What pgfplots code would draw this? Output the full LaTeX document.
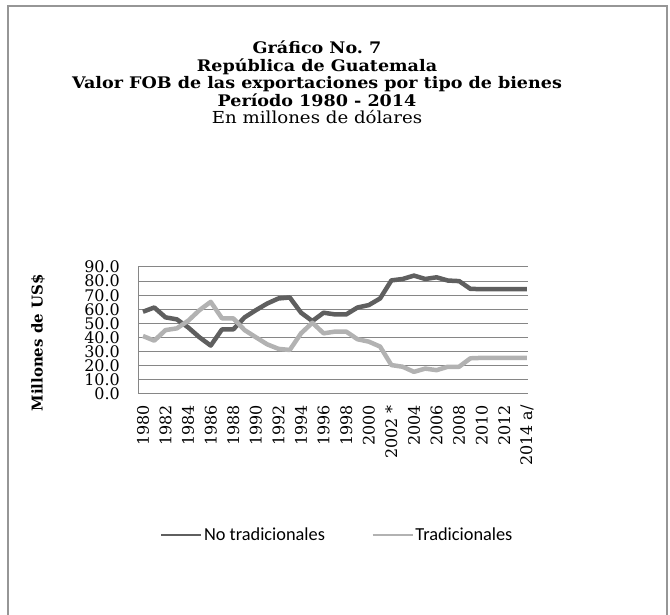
\documentclass[border=0pt]{standalone}
\usepackage{pgfplots}
\pgfplotsset{compat=1.18}
\usepackage{fontspec}
\setmainfont{DejaVu Serif}
\newfontfamily\legfont{Carlito}
\definecolor{darkl}{RGB}{95,95,95}
\definecolor{lightl}{RGB}{178,178,178}
\definecolor{gridc}{RGB}{134,134,134}
\definecolor{framec}{RGB}{150,150,150}
\pgfplotstableread{
x dark light
0 58.3 41.1
1 61.3 37.8
2 54.3 45.3
3 52.9 46.5
4 47.2 51.9
5 40.2 59.4
6 34.3 65.3
7 45.8 53.6
8 45.8 53.6
9 54.3 45.3
10 59.4 40.2
11 64.1 35.2
12 67.7 32.0
13 68.4 31.2
14 57.6 43.0
15 51.7 50.5
16 57.6 43.0
17 56.4 44.2
18 56.4 44.2
19 61.3 38.8
20 63.0 37.1
21 67.7 33.6
22 80.5 20.5
23 81.5 19.3
24 83.9 15.7
25 81.5 18.0
26 82.7 16.9
27 80.4 19.3
28 80.0 19.3
29 74.5 25.3
30 74.3 25.6
31 74.3 25.6
32 74.3 25.6
33 74.3 25.6
34 74.3 25.6
}\datatable
\begin{document}
\begin{tikzpicture}[x=1bp,y=1bp]
\useasboundingbox (0,0) rectangle (670,615);
\draw[framec,line width=2bp] (8,-10) -- (8,609) -- (667,609) -- (667,-10);
\tikzset{ttl/.style={anchor=base,xscale=1.1,font=\bfseries\fontsize{16}{17}\selectfont}}
\node[ttl] at (317,561) {Gráfico No.\ 7};
\node[ttl] at (317,543.5) {República de Guatemala};
\node[ttl] at (317,526) {Valor FOB de las exportaciones por tipo de bienes};
\node[ttl] at (317,508.5) {Período 1980 - 2014};
\node[anchor=base,xscale=1.1,font=\fontsize{16.6}{17}\selectfont] at (317,491) {En millones de dólares};
\node[rotate=90,font=\bfseries\fontsize{15}{16}\selectfont] at (38,272) {Millones de US\$};
\begin{axis}[
  at={(138bp,221bp)}, anchor=south west, scale only axis,
  width=390bp, height=127bp,
  xmin=-0.44, xmax=34.1, ymin=0, ymax=90,
  ytick={0,10,...,90},
  xtick={0,2,...,34},
  xticklabels={1980,1982,1984,1986,1988,1990,1992,1994,1996,1998,2000,2002 *,2004,2006,2008,2010,2012,2014 a/},
  yticklabel={\pgfmathprintnumber[fixed,fixed zerofill,precision=1,assume math mode=true]{\tick}},
  tick label style={font=\fontsize{16}{16}\selectfont, inner sep=0pt},
  x tick label style={rotate=90, anchor=east},
  y tick label style={anchor=east},
  xticklabel shift=11bp,
  yticklabel shift=18bp,
  ymajorgrids, grid style={gridc, line width=1bp},
  axis x line*=bottom, axis y line*=left,
  axis line style={gridc, line width=1bp, -},
  major tick length=0pt,
  legend style={at={(0.5115,-1.11)}, anchor=center, draw=none, fill=none,
    legend columns=2, font=\legfont\fontsize{18.4}{19}\selectfont,
    /tikz/every even column/.append style={column sep=45bp}},
  legend image code/.code={\draw[line width=1.5bp] (0bp,0bp) -- (40bp,0bp);},
]
\addplot[darkl, line width=4.5bp, line join=round] table[x=x,y=dark] {\datatable};
\addlegendentry{No tradicionales}
\addplot[lightl, line width=4.5bp, line join=round] table[x=x,y=light] {\datatable};
\addlegendentry{Tradicionales}
\end{axis}
\end{tikzpicture}
\end{document}
